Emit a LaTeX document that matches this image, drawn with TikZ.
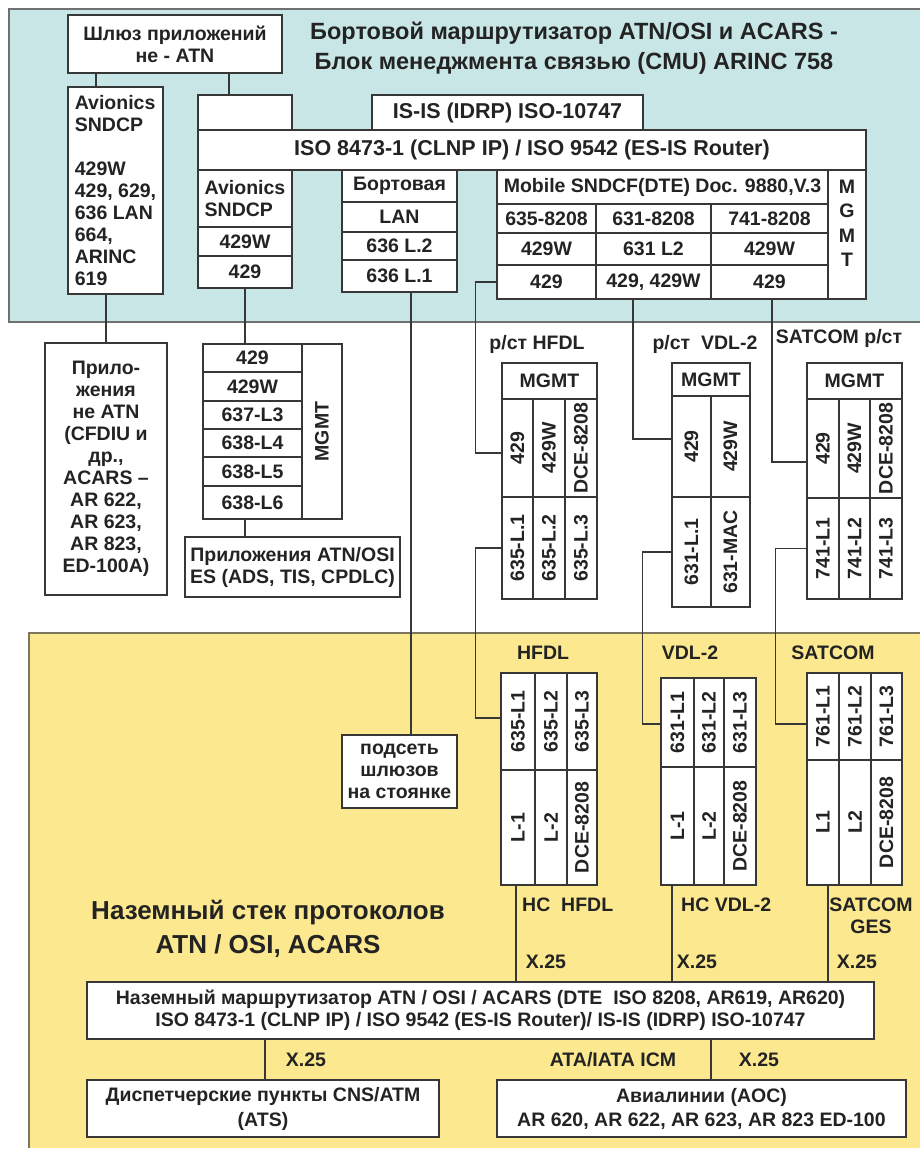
\documentclass[tikz,border=0pt]{standalone}
\usepackage{fontspec}
\setmainfont{Liberation Sans}
\usepackage{graphicx}
\usetikzlibrary{calc}
\definecolor{airpanel}{RGB}{200, 230, 230}
\definecolor{groundpanel}{RGB}{252, 232, 142}
\definecolor{airedge}{RGB}{112, 112, 112}
\definecolor{groundedge}{RGB}{125, 118, 95}
\definecolor{boxline}{RGB}{55, 55, 55}
\definecolor{inktext}{RGB}{35, 35, 35}

\newcommand{\boxfont}{\fontsize{19.5}{22}\selectfont\bfseries}
\newcommand{\rowfont}{\fontsize{21.5}{24}\selectfont\bfseries}
\newcommand{\airtitlefont}{\fontsize{23.5}{30}\selectfont\bfseries}
\newcommand{\groundtitlefont}{\fontsize{26}{34}\selectfont\bfseries}
\newcommand{\vtext}[1]{\rotatebox{90}{#1}}
% cell: [options]{name}{x1}{y1}{x2}{y2}{text}
\newcommand{\stackcell}[7][]{%
  \node[stackbox, #1, minimum width={(#5-#3)*1pt}, minimum height={(#6-#4)*1pt}]
    (#2) at ({(#3+#5)/2}, {(#4+#6)/2}) {#7};}

\begin{document}
\begin{tikzpicture}[x=1pt, y=-1pt,
  stackbox/.style={draw=boxline, fill=white, line width=1.3pt, inner sep=0pt,
    font=\boxfont, text=inktext, align=center},
  wire/.style={draw=boxline, line width=1.2pt},
  tag/.style={font=\boxfont, text=inktext, align=center, inner sep=0pt}]

  \useasboundingbox (0, 0) rectangle (919, 1152);

  % --- Panels ---
  \fill[airpanel] (9, 9) rectangle (925, 322);
  \draw[airedge, line width=2.5pt] (925, 9) -- (9, 9) -- (9, 322) -- (925, 322);
  \fill[groundpanel] (29, 633) rectangle (925, 1148);
  \draw[groundedge, line width=2.5pt] (925, 633) -- (29, 633) -- (29, 1148);

  % --- Onboard router (CMU) ---
  \node[tag, font=\airtitlefont] (airtitle) at (574, 48)
    {Бортовой маршрутизатор ATN/OSI и ACARS -\\Блок менеджмента связью (CMU) ARINC 758};

  \stackcell{gate}{68}{15}{282}{73}{Шлюз приложений\\не - ATN}
  \stackcell[align=left]{avleft}{68}{87}{163}{294}
    {Avionics\\SNDCP\\[22pt]429W\\429, 629,\\636 LAN\\664,\\ARINC\\619}

  \stackcell{blank}{198}{95}{292}{130}{}
  \stackcell[font=\rowfont]{isis}{372}{95}{643}{130}{IS-IS (IDRP) ISO-10747}
  \stackcell[font=\rowfont]{clnp}{198}{130}{866}{170}{ISO 8473-1 (CLNP IP) / ISO 9542 (ES-IS Router)}

  % Avionics SNDCP
  \stackcell[align=left]{avmid}{198}{170}{292}{227}{Avionics\\SNDCP}
  \stackcell{av429w}{198}{227}{292}{256}{429W}
  \stackcell{av429}{198}{256}{292}{288}{429}

  % onboard LAN
  \stackcell{lan1}{342}{170}{457}{202}{Бортовая}
  \stackcell{lan2}{342}{202}{457}{232}{LAN}
  \stackcell{lan3}{342}{232}{457}{260}{636 L.2}
  \stackcell{lan4}{342}{260}{457}{292}{636 L.1}

  % Mobile SNDCF
  \stackcell{mob}{497}{170}{828}{204}{Mobile SNDCF(DTE) Doc. 9880,V.3}
  \stackcell{mobA1}{497}{204}{596}{233}{635-8208}
  \stackcell{mobA2}{596}{204}{711}{233}{631-8208}
  \stackcell{mobA3}{711}{204}{828}{233}{741-8208}
  \stackcell{mobB1}{497}{233}{596}{265}{429W}
  \stackcell{mobB2}{596}{233}{711}{265}{631 L2}
  \stackcell{mobB3}{711}{233}{828}{265}{429W}
  \stackcell{mobC1}{497}{265}{596}{299}{429}
  \stackcell{mobC2}{596}{265}{711}{299}{429, 429W}
  \stackcell{mobC3}{711}{265}{828}{299}{429}
  \stackcell{mobmgmt}{828}{170}{866}{299}{}
  \node[tag, font={\fontsize{19.5}{24.5}\selectfont\bfseries}] (mobmgmttext)
    at ([yshift=11pt]mobmgmt.center) {M\\G\\M\\T};

  % --- Applications under the CMU ---
  \stackcell{nonatn}{45}{343}{167}{595}
    {Прило-\\жения\\не ATN\\(CFDIU и\\др.,\\ACARS –\\AR 622,\\AR 623,\\AR 823,\\ED-100A)}

  \stackcell{stk1}{203}{344}{302}{372}{429}
  \stackcell{stk2}{203}{372}{302}{401}{429W}
  \stackcell{stk3}{203}{401}{302}{429}{637-L3}
  \stackcell{stk4}{203}{429}{302}{457}{638-L4}
  \stackcell{stk5}{203}{457}{302}{486}{638-L5}
  \stackcell{stk6}{203}{486}{302}{519}{638-L6}
  \stackcell{stkm}{302}{344}{342}{519}{\vtext{MGMT}}
  \stackcell{esapps}{185}{537}{400}{597}{Приложения ATN/OSI\\ES (ADS, TIS, CPDLC)}

  % --- Airborne radios ---
  \node[tag] (hfdlair) at (537, 344) {р/ст HFDL};
  \stackcell{hM}{502}{363}{597}{399}{MGMT}
  \stackcell{hB1}{502}{399}{533}{497}{\vtext{429}}
  \stackcell{hB2}{533}{399}{565}{497}{\vtext{429W}}
  \stackcell{hB3}{565}{399}{597}{497}{\vtext{DCE-8208}}
  \stackcell{hC1}{502}{497}{533}{599}{\vtext{635-L.1}}
  \stackcell{hC2}{533}{497}{565}{599}{\vtext{635-L.2}}
  \stackcell{hC3}{565}{497}{597}{599}{\vtext{635-L.3}}

  \node[tag] (vdlair) at (705, 344) {р/ст\ \ VDL-2};
  \stackcell{vM}{672}{363}{750}{396}{MGMT}
  \stackcell{vB1}{672}{396}{711}{497}{\vtext{429}}
  \stackcell{vB2}{711}{396}{750}{497}{\vtext{429W}}
  \stackcell{vC1}{672}{497}{711}{607}{\vtext{631-L.1}}
  \stackcell{vC2}{711}{497}{750}{607}{\vtext{631-MAC}}

  \node[tag] (satair) at (839, 338) {SATCOM р/ст};
  \stackcell{sM}{807}{363}{902}{399}{MGMT}
  \stackcell{sB1}{807}{399}{839}{498}{\vtext{429}}
  \stackcell{sB2}{839}{399}{870}{498}{\vtext{429W}}
  \stackcell{sB3}{870}{399}{902}{498}{\vtext{DCE-8208}}
  \stackcell{sC1}{807}{498}{839}{599}{\vtext{741-L1}}
  \stackcell{sC2}{839}{498}{870}{599}{\vtext{741-L2}}
  \stackcell{sC3}{870}{498}{902}{599}{\vtext{741-L3}}

  % --- Ground stations ---
  \stackcell{podset}{342}{735}{457}{808}{подсеть\\шлюзов\\на стоянке}

  \node[tag] (hfdlgnd) at (543, 653) {HFDL};
  \stackcell{ghA1}{501}{673}{535}{770}{\vtext{635-L1}}
  \stackcell{ghA2}{535}{673}{567}{770}{\vtext{635-L2}}
  \stackcell{ghA3}{567}{673}{597}{770}{\vtext{635-L3}}
  \stackcell{ghB1}{501}{770}{535}{885}{\vtext{L-1}}
  \stackcell{ghB2}{535}{770}{567}{885}{\vtext{L-2}}
  \stackcell{ghB3}{567}{770}{597}{885}{\vtext{DCE-8208}}

  \node[tag] (vdlgnd) at (690, 653) {VDL-2};
  \stackcell{gvA1}{661}{678}{694}{767}{\vtext{631-L1}}
  \stackcell{gvA2}{694}{678}{724}{767}{\vtext{631-L2}}
  \stackcell{gvA3}{724}{678}{756}{767}{\vtext{631-L3}}
  \stackcell{gvB1}{661}{767}{694}{885}{\vtext{L-1}}
  \stackcell{gvB2}{694}{767}{724}{885}{\vtext{L-2}}
  \stackcell{gvB3}{724}{767}{756}{885}{\vtext{DCE-8208}}

  \node[tag] (satgnd) at (833, 653) {SATCOM};
  \stackcell{gsA1}{807}{673}{839}{760}{\vtext{761-L1}}
  \stackcell{gsA2}{839}{673}{871}{760}{\vtext{761-L2}}
  \stackcell{gsA3}{871}{673}{902}{760}{\vtext{761-L3}}
  \stackcell{gsB1}{807}{760}{839}{885}{\vtext{L1}}
  \stackcell{gsB2}{839}{760}{871}{885}{\vtext{L2}}
  \stackcell{gsB3}{871}{760}{902}{885}{\vtext{DCE-8208}}

  \node[tag, anchor=west] (hcHfdl) at (522, 905) {НС\ \ HFDL};
  \node[tag, anchor=west] (hcVdl) at (681, 905) {НС VDL-2};
  \node[tag] (ges) at (871, 916) {SATCOM\\GES};
  \node[tag] (xHfdl) at (546, 962) {X.25};
  \node[tag] (xVdl) at (697, 962) {X.25};
  \node[tag] (xSat) at (857, 962) {X.25};

  \node[tag, font=\groundtitlefont] (gndtitle) at (268, 929)
    {Наземный стек протоколов\\ATN / OSI, ACARS};

  % --- Ground router and users ---
  \stackcell{router}{87}{982}{874}{1039}
    {Наземный маршрутизатор ATN / OSI / ACARS (DTE\ \ ISO 8208, AR619, AR620)\\ISO 8473-1 (CLNP IP) / ISO 9542 (ES-IS Router)/ IS-IS (IDRP) ISO-10747}
  \stackcell[font={\fontsize{19.5}{25}\selectfont\bfseries}]{disp}{87}{1080}{439}{1137}
    {Диспетчерские пункты CNS/ATM\\(ATS)}
  \stackcell[font={\fontsize{19.5}{24}\selectfont\bfseries}]{avia}{497}{1080}{906}{1137}
    {Авиалинии (AOC)\\AR 620, AR 622, AR 623, AR 823 ED-100}
  \node[tag] (xDisp) at (306, 1060) {X.25};
  \node[tag] (icm) at (613, 1060) {ATA/IATA ICM};
  \node[tag] (xAvia) at (759, 1060) {X.25};

  % --- Connections ---
  \draw[wire] ([xshift=-19.5pt]avleft.north) -- ([xshift=-19.5pt]avleft.north |- gate.south);
  \draw[wire] ([xshift=-16pt]blank.north) -- ([xshift=-16pt]blank.north |- gate.south);
  \draw[wire] (nonatn.north) -- (nonatn.north |- avleft.south);
  \draw[wire] (av429.south) -- (av429.south |- stk1.north);
  \draw[wire] ([xshift=-7.5pt]stk6.south) -- ([xshift=-7.5pt]stk6.south |- esapps.north);
  \draw[wire] ([xshift=11.5pt]lan4.south) -- ([xshift=11.5pt]lan4.south |- podset.north);

  % CMU to radios
  \draw[wire] (mobC1.west) -- ++(-21, 0) |- ([yshift=-5pt]hB1.west);
  \draw[wire] ([xshift=-20.5pt]mobC2.south) |- ([yshift=7.5pt]vB1.west);
  \draw[wire] ([xshift=2.5pt]mobC3.south) |- ([yshift=-13.5pt]sB1.west);

  % radios to ground stations
  \draw[wire] (hC1.west) -- ++(-26, 0) |- ([yshift=3.5pt]ghA1.west);
  \draw[wire] (vC1.west) -- ++(-29, 0) |- ([yshift=-1.5pt]gvA1.west);
  \draw[wire] (sC1.west) -- ++(-31, 0) |- ([yshift=-7.5pt]gsA1.west);

  % ground stations to router
  \draw[wire] ([xshift=-2pt]ghB1.south) -- ([xshift=-2pt]ghB1.south |- router.north);
  \draw[wire] ([xshift=-5.5pt]gvB1.south) -- ([xshift=-5.5pt]gvB1.south |- router.north);
  \draw[wire] ([xshift=5pt]gsB1.south) -- ([xshift=5pt]gsB1.south |- router.north);
  \draw[wire] ([xshift=2pt]disp.north) -- ([xshift=2pt]disp.north |- router.south);
  \draw[wire] ([xshift=9.5pt]avia.north) -- ([xshift=9.5pt]avia.north |- router.south);

\end{tikzpicture}
\end{document}
